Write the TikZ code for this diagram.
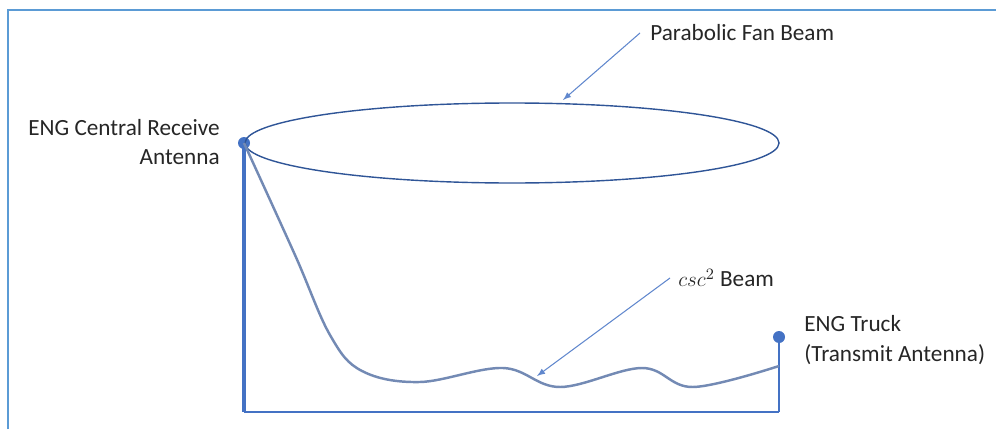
\documentclass[tikz,border=0pt]{standalone}
\usepackage{fontspec}
\setmainfont{Carlito}
\usepackage{amsmath}
\usepackage{tikz}
\usetikzlibrary{arrows,shapes,positioning}
\usepackage{xcolor}
\definecolor{engframe}{RGB}{91,155,213}
\definecolor{engblue}{RGB}{68,114,196}
\definecolor{engdark}{RGB}{47,85,151}
\definecolor{enggray}{RGB}{115,138,180}
\tikzstyle{label} = [font=\fontsize{13.2}{17}\selectfont, text=black!85, inner sep=0pt]
\tikzstyle{dot} = [circle, fill=engblue, inner sep=0pt, minimum size=12*0.02cm]
\tikzstyle{pole} = [line width=2.5pt, color=engblue]
\tikzstyle{callout} = [semithick,-latex,color=engblue!85]

\begin{document}
\begin{tikzpicture}[x=0.02cm, y=-0.02cm]
\useasboundingbox (0,0) rectangle (996,429);
% Frame
\draw[line width=1.2pt, engframe] (8,429) -- (8,10) -- (996,10);

% Antennas
\node[dot] (rx) at (244,143) {};
\node[dot] (tx) at (779,337) {};
\coordinate (rxfoot) at (244,412);
\coordinate (txfoot) at (779,412);
\draw[pole] (rx.center) -- (rxfoot);
\draw[line width=1.6pt, engblue] (tx.center) -- (txfoot);
\draw[line width=1pt, engblue] (rxfoot) -- (txfoot);

% Fan beam
\node[draw=engdark, thick, ellipse, minimum width=534*0.02cm, minimum height=80*0.02cm, inner sep=0pt] (fan) at (512,143) {};

% csc^2 beam
\draw[enggray, line width=1.4pt] plot[smooth, tension=0.6] coordinates {(244,143) (295,255) (330,335) (362,371) (420,382) (503,368) (560,387) (642,368) (693,387) (779,366)};

% Labels
\node[label, align=right, anchor=east] (rxlab) at (220,142) {ENG Central Receive\\Antenna};
\node[label, align=left, anchor=west] (txlab) at (804,340) {ENG Truck\\(Transmit Antenna)};
\node[label, anchor=west] (fanlab) at (650,33) {Parabolic Fan Beam};
\node[label, anchor=west] (csclab) at (678,278) {$csc^2$ Beam};

% Callouts
\coordinate (fantip) at (563,100);
\coordinate (csctip) at (537,376);
\draw[callout] (fanlab.west) ++(-10,0) coordinate (fanstart) -- (fantip);
\draw[callout] (csclab.west) ++(-8,0) coordinate (cscstart) -- (csctip);
\end{tikzpicture}
\end{document}
